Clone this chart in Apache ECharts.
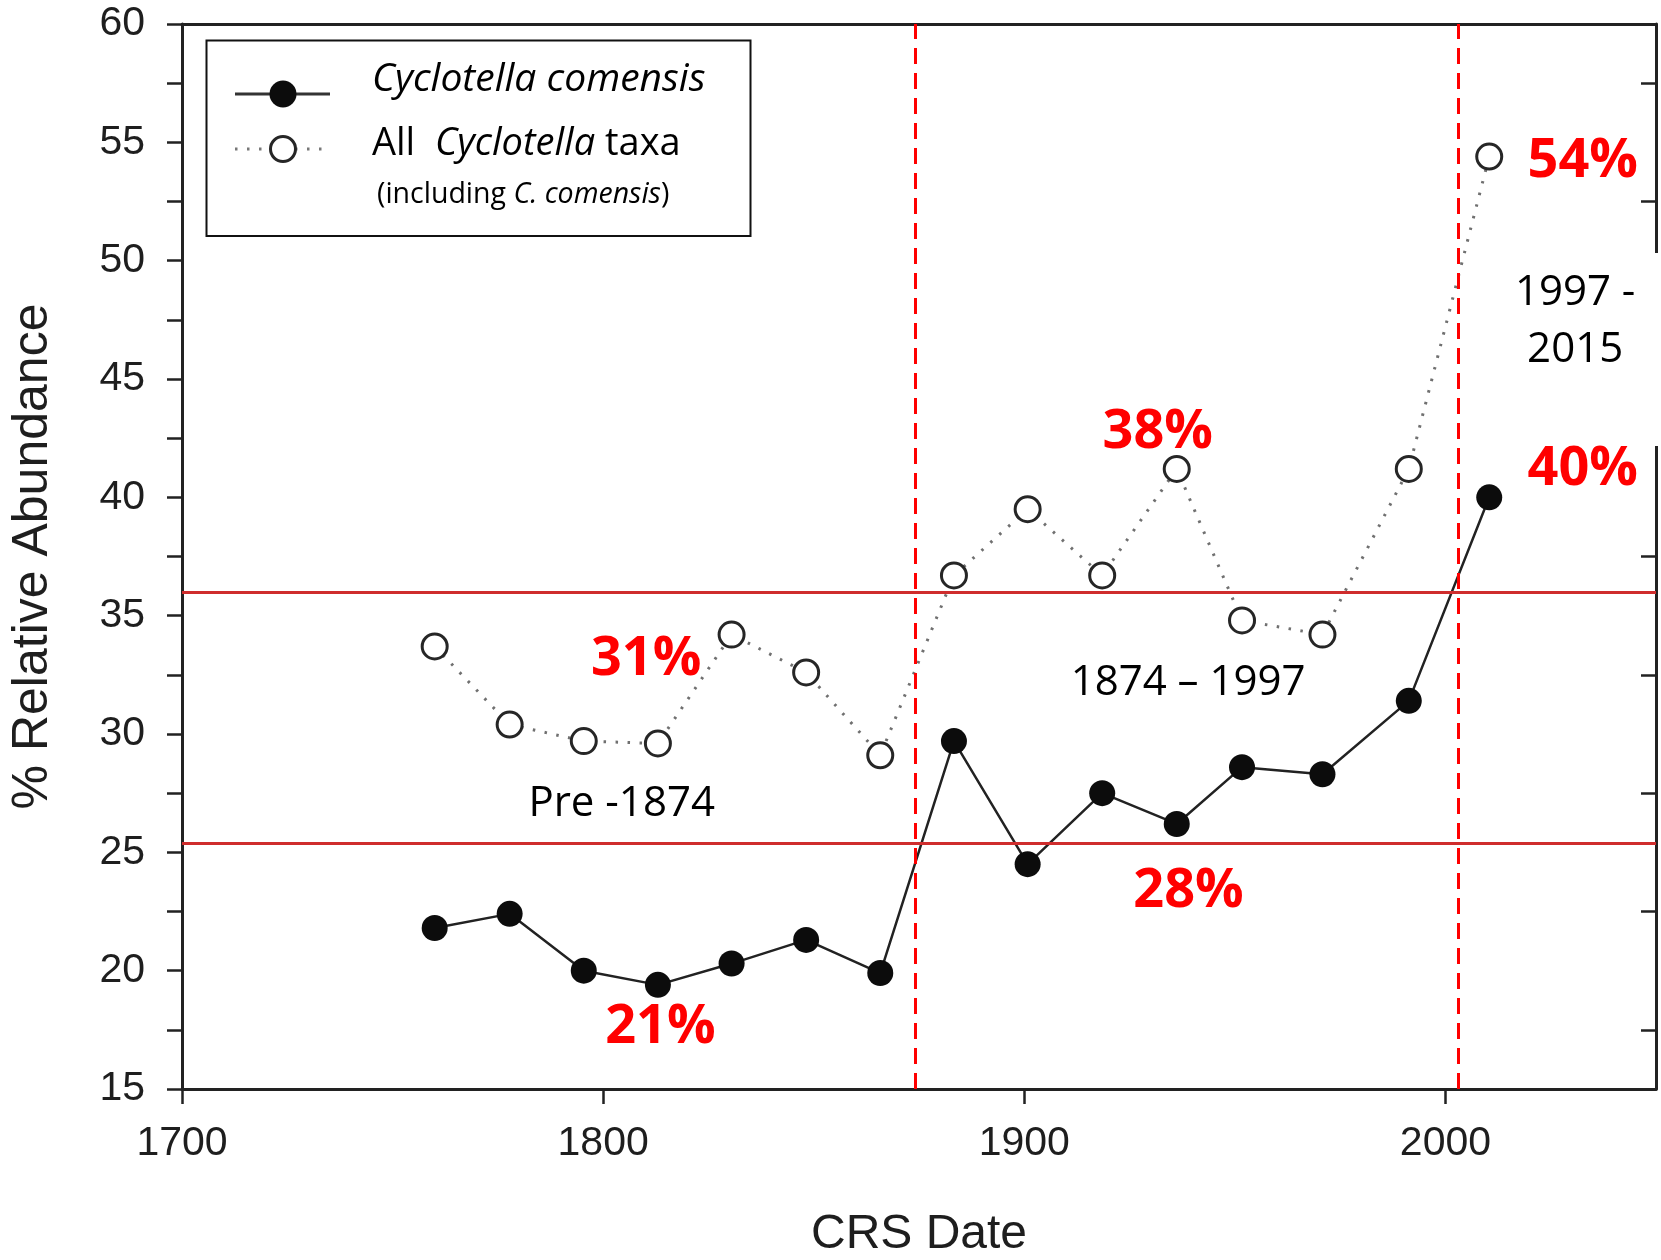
<!DOCTYPE html>
<html>
<head>
<meta charset="utf-8">
<script src="https://cdn.jsdelivr.net/npm/echarts@6/dist/echarts.min.js"></script>
<style>
  html, body { margin: 0; padding: 0; background: #ffffff; }
  #chart { width: 1661px; height: 1260px; }
</style>
</head>
<body>
<div id="chart"></div>
<script>
// Core sample dates (CRS) and relative abundances (%)
const sampleYears = [1760, 1777.8, 1795.4, 1813, 1830.5, 1848.2, 1865.8, 1883.3, 1900.8, 1918.5, 1936.2, 1951.7, 1970.8, 1991.3, 2010.4];
const comensis = [21.8, 22.4, 20.0, 19.4, 20.3, 21.3, 19.9, 29.7, 24.5, 27.5, 26.2, 28.6, 28.3, 31.4, 40.0];
const allCyclotella = [33.7, 30.4, 29.7, 29.6, 34.2, 32.6, 29.1, 36.7, 39.5, 36.7, 41.2, 34.8, 34.2, 41.2, 54.4];

// Axis ticks
const xTickValues = [1700, 1800, 1900, 2000];
const yRightTicks = [17.5, 22.5, 27.5, 32.5, 37.5, 42.5, 47.5, 52.5, 57.5];

// Period boundaries and reference abundance levels
const periodBounds = [1874, 2003];
const referenceLevels = [36.0, 25.4];

const FONT_AXIS = '"Liberation Sans", Arial, sans-serif';
const FONT_NOTE = '"Open Sans", "Noto Sans", sans-serif';

function pairs(values) { return sampleYears.map((y, i) => [y, values[i]]); }
function periodMean(values, from, to) {
  const sel = values.filter((v, i) => sampleYears[i] >= from && sampleYears[i] < to);
  return sel.reduce((a, b) => a + b, 0) / sel.length;
}
const pct = v => Math.round(v) + '%';

const chart = echarts.init(document.getElementById('chart'), null, { renderer: 'canvas' });

const axisLineStyle = { color: '#222', width: 3 };
const tickLineStyle = { color: '#222', width: 2.5 };

chart.setOption({
  animation: false,
  backgroundColor: '#ffffff',
  grid: { left: 182, right: 5, top: 24, bottom: 171, containLabel: false, outerBoundsMode: 'none' },
  xAxis: [
    {
      type: 'value', position: 'bottom', min: 1700, max: 2050, interval: 100,
      axisLine: { show: true, lineStyle: axisLineStyle },
      axisTick: { show: true, length: 15, lineStyle: tickLineStyle, customValues: xTickValues },
      axisLabel: { customValues: xTickValues, formatter: v => String(v),
                   fontFamily: FONT_AXIS, fontSize: 41, color: '#1e1e1e', margin: 34 },
      splitLine: { show: false },
      name: 'CRS Date', nameLocation: 'middle', nameGap: 122,
      nameTextStyle: { fontFamily: FONT_AXIS, fontSize: 48, color: '#1e1e1e' }
    },
    {
      type: 'value', position: 'top', min: 1700, max: 2050,
      axisLine: { show: true, onZero: false, lineStyle: axisLineStyle },
      axisTick: { show: false }, axisLabel: { show: false }, splitLine: { show: false }
    }
  ],
  yAxis: [
    {
      type: 'value', position: 'left', min: 15, max: 60, interval: 2.5,
      axisLine: { show: true, onZero: false, lineStyle: axisLineStyle },
      axisTick: { show: true, length: 15, lineStyle: tickLineStyle },
      axisLabel: {
        fontFamily: FONT_AXIS, fontSize: 41, color: '#1e1e1e', margin: 37,
        formatter: v => (v % 5 === 0 ? String(v) : '')
      },
      splitLine: { show: false },
      name: '% Relative Abundance', nameLocation: 'middle', nameGap: 124, nameRotate: 90,
      nameTextStyle: { fontFamily: FONT_AXIS, fontSize: 50, color: '#1e1e1e' }
    },
    {
      type: 'value', position: 'right', min: 15, max: 60,
      axisLine: { show: true, onZero: false, lineStyle: axisLineStyle },
      axisTick: { show: true, inside: true, length: 15, lineStyle: tickLineStyle, customValues: yRightTicks },
      axisLabel: { show: false }, splitLine: { show: false }
    }
  ],
  series: [
    {
      name: 'guides', type: 'line', data: [], z: 1, silent: true,
      markLine: {
        silent: true, symbol: 'none', label: { show: false }, animation: false,
        data: [
          ...referenceLevels.map(v => ({ yAxis: v, lineStyle: { color: '#cf2d2d', width: 3, type: 'solid' } })),
          ...periodBounds.map(v => ({ xAxis: v, lineStyle: { color: '#ff0000', width: 3, type: [16, 9] } }))
        ]
      }
    },
    {
      name: 'All Cyclotella taxa', type: 'line', data: pairs(allCyclotella), z: 3,
      symbol: 'circle', symbolSize: 25,
      itemStyle: { color: '#ffffff', borderColor: '#262626', borderWidth: 3 },
      lineStyle: { color: '#707070', width: 3, type: [2.5, 9.5] }
    },
    {
      name: 'Cyclotella comensis', type: 'line', data: pairs(comensis), z: 4,
      symbol: 'circle', symbolSize: 26,
      itemStyle: { color: '#0c0c0c' },
      lineStyle: { color: '#222', width: 2.5 }
    }
  ]
});

// Annotations placed in data space
const preMeanAll = periodMean(allCyclotella, 0, periodBounds[0]);
const preMeanCom = periodMean(comensis, 0, periodBounds[0]);
const midMeanAll = periodMean(allCyclotella, periodBounds[0], periodBounds[1]);
const midMeanCom = periodMean(comensis, periodBounds[0], periodBounds[1]);
const last = sampleYears.length - 1;

const redNotes = [
  { text: pct(preMeanAll), at: [1810.2, 33.15] },
  { text: pct(preMeanCom), at: [1813.6, 17.6] },
  { text: pct(midMeanAll), at: [1931.7, 42.75] },
  { text: pct(midMeanCom), at: [1939, 23.33] },
  { text: pct(allCyclotella[last]), at: [2032.6, 54.2] },
  { text: pct(comensis[last]), at: [2032.6, 41.17] }
];
const periodNotes = [
  { text: 'Pre -1874', at: [1804.4, 27.02] },
  { text: '1874 \u2013 1997', at: [1938.9, 32.14] }
];
const lastPeriodNote = { text: '1997 -\n2015', at: [2030.8, 47.41] };

const toPx = p => chart.convertToPixel({ xAxisIndex: 0, yAxisIndex: 0 }, p);

const graphics = [];
redNotes.forEach(n => {
  const [x, y] = toPx(n.at);
  graphics.push({
    type: 'text', z: 60, silent: true,
    style: { text: n.text, x, y, align: 'center', verticalAlign: 'middle',
             font: 'bold 54px ' + FONT_NOTE, fill: '#ff0000' }
  });
});
periodNotes.forEach(n => {
  const [x, y] = toPx(n.at);
  graphics.push({
    type: 'text', z: 60, silent: true,
    style: { text: n.text, x, y, align: 'center', verticalAlign: 'middle',
             font: '42px ' + FONT_NOTE, fill: '#000' }
  });
});
(function () {
  const [x, y] = toPx(lastPeriodNote.at);
  // white panel behind the last-period label, covering the frame edge
  graphics.push({
    type: 'rect', z: 55, silent: true,
    shape: { x: x - 80, y: y - 69, width: 200, height: 193 },
    style: { fill: '#ffffff' }
  });
  graphics.push({
    type: 'text', z: 60, silent: true,
    style: { text: lastPeriodNote.text, x, y, align: 'center', verticalAlign: 'middle',
             font: '42px ' + FONT_NOTE, fill: '#000', lineHeight: 57 }
  });
})();

// Legend box
graphics.push(
  { type: 'rect', z: 50, silent: true,
    shape: { x: 206.5, y: 40.5, width: 544, height: 195.5 },
    style: { fill: '#ffffff', stroke: '#111', lineWidth: 2 } },
  { type: 'line', z: 51, silent: true,
    shape: { x1: 235, y1: 94, x2: 330, y2: 94 },
    style: { stroke: '#333', lineWidth: 3 } },
  { type: 'circle', z: 52, silent: true,
    shape: { cx: 283, cy: 94, r: 13.5 },
    style: { fill: '#0c0c0c' } },
  { type: 'line', z: 51, silent: true,
    shape: { x1: 235, y1: 149, x2: 330, y2: 149 },
    style: { stroke: '#777', lineWidth: 3, lineDash: [2.5, 9.5] } },
  { type: 'circle', z: 52, silent: true,
    shape: { cx: 283, cy: 149, r: 12.5 },
    style: { fill: '#ffffff', stroke: '#262626', lineWidth: 3 } },
  { type: 'text', z: 52, silent: true,
    style: { text: '{i|Cyclotella comensis}', x: 372, y: 80, align: 'left', verticalAlign: 'middle',
             rich: { i: { fontFamily: FONT_NOTE, fontSize: 39, fontStyle: 'italic', fill: '#000' } } } },
  { type: 'text', z: 52, silent: true,
    style: { text: '{n|All  }{i|Cyclotella}{n| taxa}', x: 372, y: 144, align: 'left', verticalAlign: 'middle',
             rich: { n: { fontFamily: FONT_NOTE, fontSize: 38, fill: '#000' },
                     i: { fontFamily: FONT_NOTE, fontSize: 38, fontStyle: 'italic', fill: '#000' } } } },
  { type: 'text', z: 52, silent: true,
    style: { text: '{n|(including }{i|C. comensis}{n|)}', x: 377, y: 195, align: 'left', verticalAlign: 'middle',
             rich: { n: { fontFamily: FONT_NOTE, fontSize: 28.5, fill: '#000' },
                     i: { fontFamily: FONT_NOTE, fontSize: 28.5, fontStyle: 'italic', fill: '#000' } } } }
);

chart.setOption({ graphic: graphics });
</script>
</body>
</html>
